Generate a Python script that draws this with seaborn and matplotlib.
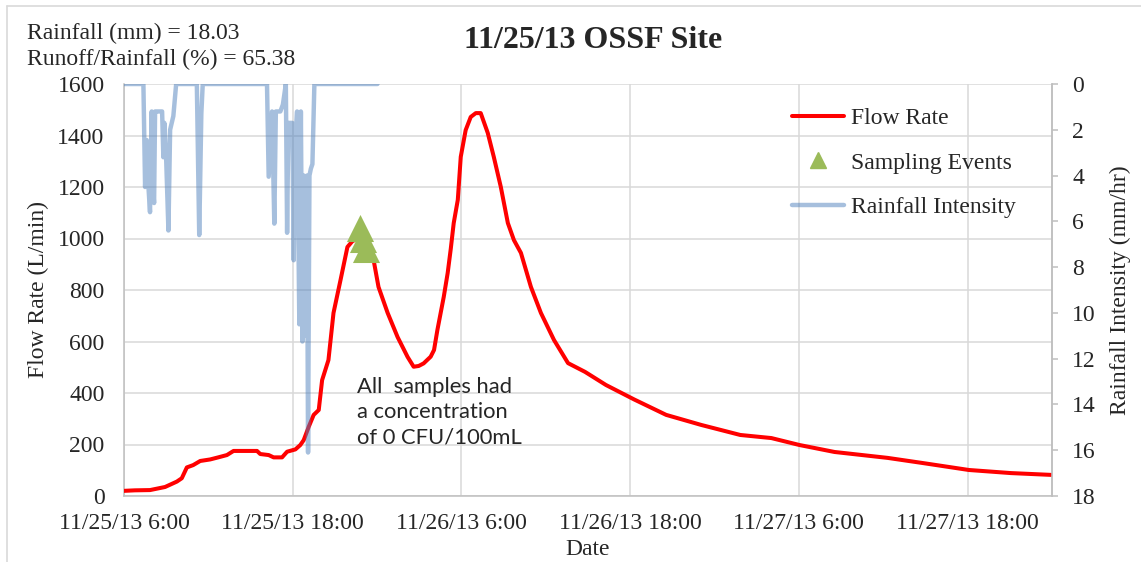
import numpy as np
import pandas as pd
import matplotlib
matplotlib.use("Agg")
import matplotlib.pyplot as plt
import seaborn as sns
from matplotlib.lines import Line2D

# ---------------- data (hours after 11/25/13 6:00) ----------------
flow_hours = [0.00, 0.78, 1.85, 2.92, 3.76, 4.11, 4.47, 4.92, 5.42, 6.13, 6.70, 7.32,
              7.79, 9.46, 9.69, 10.29, 10.64, 11.24, 11.60, 12.19, 12.54, 12.78, 13.14,
              13.49, 13.85, 14.09, 14.54, 14.90, 15.40, 15.89, 16.25, 16.68, 17.18,
              17.75, 18.10, 18.75, 19.46, 20.17, 20.60, 20.96, 21.31, 21.81, 22.05,
              22.29, 22.74, 23.02, 23.24, 23.45, 23.74, 23.95, 24.30, 24.66, 25.02,
              25.37, 25.87, 26.30, 26.80, 27.30, 27.73, 28.23, 28.94, 29.65, 30.58,
              31.58, 32.79, 34.28, 36.28, 38.56, 41.05, 43.83, 46.04, 48.04, 50.53,
              54.31, 56.81, 60.09, 63.08, 65.93]
flow_lpm = [20, 22, 23, 35, 56, 69, 111, 120, 136, 142, 150, 159,
            175, 175, 163, 159, 150, 150, 172, 181, 198, 217, 269,
            315, 334, 450, 528, 711, 839, 967, 990, 1000, 985,
            917, 812, 711, 617, 540, 502, 505, 515, 541, 567,
            645, 773, 866, 960, 1060, 1150, 1317, 1421, 1472, 1487,
            1487, 1410, 1317, 1200, 1060, 994, 944, 812, 711, 606,
            516, 482, 431, 375, 315, 276, 237, 225, 198, 171,
            148, 128, 101, 89, 82]

rain_hours = [0.00, 1.38, 1.50, 1.62, 1.73, 1.85, 1.97, 2.07, 2.14, 2.21, 2.42, 2.71,
              2.80, 2.87, 2.99, 3.16, 3.28, 3.51, 3.71, 5.18, 5.35, 5.50, 5.60,
              10.17, 10.29, 10.53, 10.69, 10.80, 11.12, 11.30, 11.51, 11.60, 11.69,
              11.97, 12.07, 12.14, 12.31, 12.47, 12.58, 12.69, 12.79, 12.90, 13.01,
              13.09, 13.19, 13.29, 13.40, 13.54, 18.03]
rain_mmhr = [0, 0, 4.5, 2.45, 4.4, 5.6, 1.2, 4.6, 5.2, 1.2, 1.2, 1.2,
             3.2, 1.7, 3.1, 6.4, 2.0, 1.4, 0, 0, 6.6, 1.3, 0,
             0, 4.05, 1.2, 6.1, 1.2, 1.2, 0.9, 0, 6.5, 1.7,
             1.7, 7.7, 2.9, 1.2, 10.5, 1.2, 11.25, 4.0, 11.0, 4.0,
             16.1, 4.0, 3.7, 3.5, 0, 0]

sample_hours = [16.82, 16.98, 17.18]
sample_flow = [1039, 1000, 961]

x_tick_hours = [0, 12, 24, 36, 48, 60]
x_tick_labels = ["11/25/13 6:00", "11/25/13 18:00", "11/26/13 6:00",
                 "11/26/13 18:00", "11/27/13 6:00", "11/27/13 18:00"]
left_ticks = list(range(0, 1601, 200))
right_ticks = list(range(0, 19, 2))

title = "11/25/13 OSSF Site"
info_lines = ["Rainfall (mm) = 18.03", "Runoff/Rainfall (%) = 65.38"]
note = "All  samples had\na concentration\nof 0 CFU/100mL"

# ---------------- style ----------------
sns.set_style("white")
plt.rcParams["font.family"] = ["Liberation Serif", "DejaVu Serif"]
FS = 17
GRID = "#d9d9d9"
SPINE = "#bfbfbf"
RED = "#ff0000"
BLUE = "#4f81bd"
GREEN = "#9bbb59"

flow_df = pd.DataFrame({"hours": flow_hours, "flow": flow_lpm})
rain_df = pd.DataFrame({"hours": rain_hours, "rain": rain_mmhr})
samp_df = pd.DataFrame({"hours": sample_hours, "flow": sample_flow})

fig = plt.figure(figsize=(11.41, 5.62), dpi=100)
ax = fig.add_axes([124 / 1141, 1 - 496 / 562, (1052 - 124) / 1141, (496 - 84) / 562])

sns.lineplot(data=flow_df, x="hours", y="flow", ax=ax, color=RED, linewidth=2.9,
             estimator=None, sort=False, legend=False, zorder=3)
sns.scatterplot(data=samp_df, x="hours", y="flow", ax=ax, marker="^", s=380,
                color=GREEN, edgecolor=GREEN, linewidth=0, legend=False, zorder=4)

ax.set_xlim(0, 66)
ax.set_ylim(0, 1600)
ax.set_xticks(x_tick_hours)
ax.set_xticklabels(x_tick_labels, fontsize=FS)
ax.set_yticks(left_ticks)
ax.set_yticklabels([str(v) for v in left_ticks], fontsize=FS)
ax.tick_params(axis="y", length=0, pad=14)
ax.tick_params(axis="x", length=0, pad=12)
ax.grid(True, color=GRID, linewidth=1.1)
ax.set_axisbelow(True)
ax.set_xlabel("Date", fontsize=FS, labelpad=4)
ax.set_ylabel("Flow Rate (L/min)", fontsize=FS, labelpad=6)
for s in ["left", "bottom", "right"]:
    ax.spines[s].set_color(SPINE)
    ax.spines[s].set_linewidth(1.1)
ax.spines["top"].set_visible(False)

ax2 = ax.twinx()
sns.lineplot(data=rain_df, x="hours", y="rain", ax=ax2, color=BLUE, alpha=0.5,
             linewidth=3.2, estimator=None, sort=False, legend=False, zorder=3)
ax2.set_xlim(0, 66)
ax2.set_ylim(18, 0)
ax2.set_yticks(right_ticks)
ax2.set_yticklabels([str(v) for v in right_ticks], fontsize=FS)
ax2.tick_params(axis="y", length=4.5, width=1.1, color=SPINE, pad=10, direction="out")
ax2.set_ylabel("Rainfall Intensity (mm/hr)", fontsize=FS, labelpad=10)
for s in ["left", "bottom", "top"]:
    ax2.spines[s].set_visible(False)
ax2.spines["right"].set_color(SPINE)
ax2.spines["right"].set_linewidth(1.1)
ax2.grid(False)

handles = [Line2D([], [], color=RED, linewidth=2.9),
           Line2D([], [], color=GREEN, marker="^", linestyle="none", markersize=11),
           Line2D([], [], color=BLUE, alpha=0.5, linewidth=3.2)]
ax2.legend(handles, ["Flow Rate", "Sampling Events", "Rainfall Intensity"],
           loc="upper left", bbox_to_anchor=(0.72, 0.943), frameon=False,
           fontsize=FS, handlelength=2.2, handletextpad=0.3, labelspacing=0.98,
           borderpad=0, borderaxespad=0)

ax.text((357 - 124) / 928, (496 - 377) / 412, note, transform=ax.transAxes,
        fontsize=15.8, family=["Lato", "DejaVu Sans"], va="top", ha="left",
        linespacing=1.33, zorder=5)

fig.text(593 / 1141, 1 - 40 / 562, title, fontsize=23, fontweight="bold",
         ha="center", va="center")
fig.text(27 / 1141, 1 - 33 / 562, info_lines[0], fontsize=FS, ha="left", va="center")
fig.text(27 / 1141, 1 - 59 / 562, info_lines[1], fontsize=FS, ha="left", va="center")

fig.add_artist(Line2D([7 / 1141, 1], [1 - 6 / 562, 1 - 6 / 562], color=GRID,
                      linewidth=1.2, transform=fig.transFigure))
fig.add_artist(Line2D([7 / 1141, 7 / 1141], [0, 1 - 6 / 562], color=GRID,
                      linewidth=1.2, transform=fig.transFigure))

fig.savefig("out.png", dpi=100)
